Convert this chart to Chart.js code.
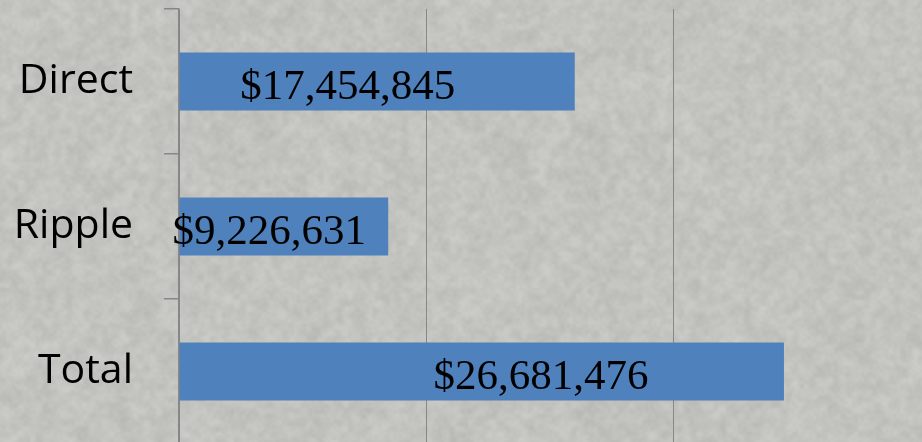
<!DOCTYPE html>
<html>
<head>
<meta charset="utf-8">
<script src="https://cdn.jsdelivr.net/npm/chart.js@4"></script>
<style>
  html, body { margin: 0; padding: 0; overflow: hidden; width: 922px; height: 442px; }
  #wrap { position: relative; width: 922px; height: 446px; }
  #bg, #chart { position: absolute; left: 0; top: 0; }
</style>
</head>
<body>
<div id="wrap">
  <canvas id="bg" width="922" height="446"></canvas>
  <canvas id="chart" width="922" height="446"></canvas>
</div>
<script>
// ---- data ----
const categories = ["Direct", "Ripple", "Total"];
const values = [17454845, 9226631, 26681476];
const valueLabels = ["$17,454,845", "$9,226,631", "$26,681,476"];
const gridTicks = [0, 10900000, 21800000];

// ---- textured stone background (deterministic noise) ----
(function drawBackground() {
  const c = document.getElementById('bg');
  const ctx = c.getContext('2d');
  const W = c.width, H = c.height;
  let s = 123456789;
  const rnd = () => { s |= 0; s = s + 0x6D2B79F5 | 0; let t = Math.imul(s ^ s >>> 15, 1 | s); t = t + Math.imul(t ^ t >>> 7, 61 | t) ^ t; return ((t ^ t >>> 14) >>> 0) / 4294967296; };
  const base = 194;
  ctx.fillStyle = 'rgb(194,194,190)';
  ctx.fillRect(0, 0, W, H);
  const layers = [[40, 0.35, 16], [14, 0.5, 20], [6, 0.5, 18], [3, 0.3, 12]];
  ctx.imageSmoothingEnabled = true;
  ctx.imageSmoothingQuality = 'high';
  for (const [sc, alpha, amp] of layers) {
    const w = Math.ceil(W / sc) + 2, h = Math.ceil(H / sc) + 2;
    const t = document.createElement('canvas');
    t.width = w; t.height = h;
    const tc = t.getContext('2d');
    const img = tc.createImageData(w, h);
    for (let i = 0; i < w * h; i++) {
      const v = base + (rnd() - 0.5) * 2 * amp;
      img.data[i * 4] = v; img.data[i * 4 + 1] = v; img.data[i * 4 + 2] = v - 4; img.data[i * 4 + 3] = 255;
    }
    tc.putImageData(img, 0, 0);
    ctx.globalAlpha = alpha;
    ctx.drawImage(t, -sc, -sc, w * sc, h * sc);
  }
  ctx.globalAlpha = 1;
})();

// ---- value labels plugin ----
const labelAnchors = [0.4255, 0.43, 0.598];
const valueLabelPlugin = {
  id: 'valueLabels',
  afterDatasetsDraw(chart) {
    const ctx = chart.ctx;
    const meta = chart.getDatasetMeta(0);
    ctx.save();
    ctx.font = '43px "Liberation Serif", "Times New Roman", serif';
    ctx.fillStyle = '#000';
    ctx.textAlign = 'center';
    ctx.textBaseline = 'alphabetic';
    meta.data.forEach((bar, i) => {
      const p = bar.getProps(['x', 'y', 'base'], true);
      const cx = p.base + labelAnchors[i] * (p.x - p.base);
      ctx.fillText(valueLabels[i], cx, p.y + 17.5);
    });
    ctx.restore();
  }
};

new Chart(document.getElementById('chart'), {
  type: 'bar',
  data: {
    labels: categories,
    datasets: [{
      data: values,
      backgroundColor: '#4f81bd',
      borderWidth: 0,
      categoryPercentage: 1.0,
      barPercentage: 0.4
    }]
  },
  plugins: [valueLabelPlugin],
  options: {
    indexAxis: 'y',
    responsive: false,
    animation: false,
    layout: { padding: { top: 9, left: 0, right: 0, bottom: 0 } },
    plugins: { legend: { display: false }, tooltip: { enabled: false } },
    scales: {
      x: {
        min: 0,
        max: 32770000,
        afterBuildTicks(scale) { scale.ticks = gridTicks.map(v => ({ value: v })); },
        afterFit(scale) { scale.height = 2; scale.paddingLeft = 0; scale.paddingRight = 0; },
        ticks: { display: false },
        border: { display: false },
        grid: { color: '#878787', lineWidth: 1, drawTicks: false }
      },
      y: {
        afterFit(scale) { scale.width = 179; scale.paddingTop = 0; scale.paddingBottom = 0; },
        ticks: {
          color: '#000',
          padding: 31,
          font: { family: '"Open Sans", "Noto Sans", sans-serif', size: 41 }
        },
        border: { display: true, color: '#878787', width: 1.5 },
        grid: { drawOnChartArea: false, drawTicks: true, tickLength: 15, color: '#878787', lineWidth: 1.5 }
      }
    }
  }
});
</script>
</body>
</html>
